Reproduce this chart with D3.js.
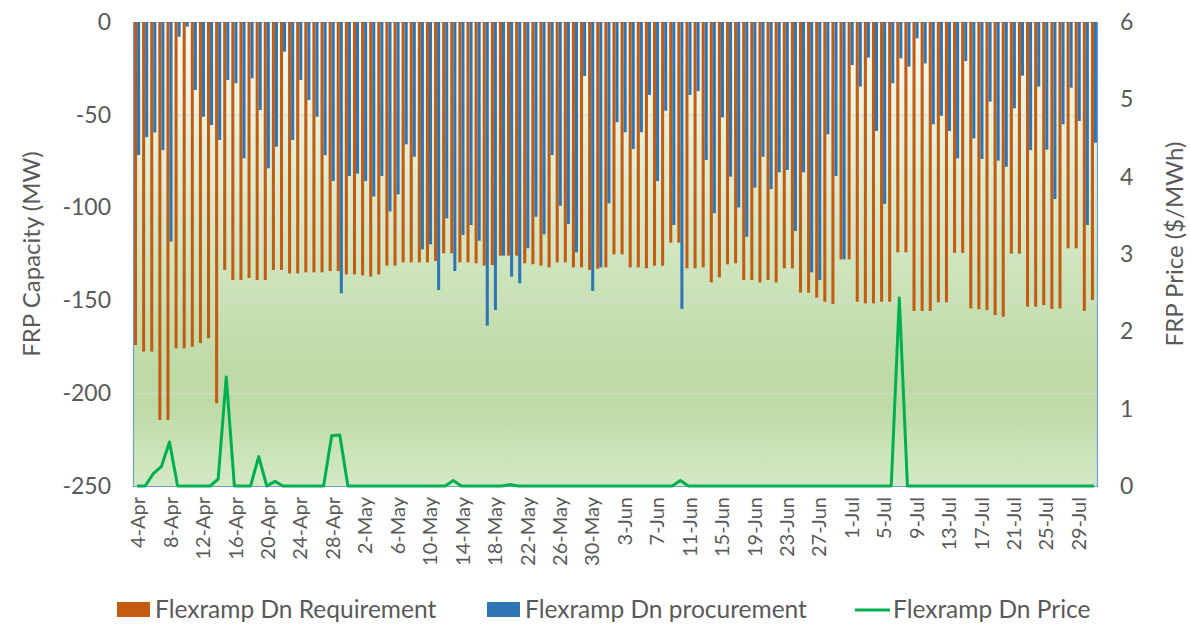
<!DOCTYPE html>
<html>
<head>
<meta charset="utf-8">
<script src="https://cdn.jsdelivr.net/npm/d3@7"></script>
<style>
  body { margin: 0; background: #fff; }
  text { font-family: Lato, 'Open Sans', sans-serif; fill: #595959; }
</style>
</head>
<body>
<svg id="chart" width="1190" height="625"></svg>
<script>
// daily values, 4-Apr .. 31-Jul
const requirement = [
  -174, -177.6, -177.6, -214.4, -214.4, -175.8, -175.8, -175, -173, -170.4,
  -205.4, -133.6, -139, -139, -138, -139, -139, -133.6, -133.6, -135.4,
  -135.4, -134.9, -134.9, -134.9, -134.2, -134.2, -136, -136, -136.5, -137.2,
  -136, -131.3, -131.3, -129.5, -129.5, -129.5, -129.5, -128.8, -124.6, -124.6,
  -129.5, -129.5, -130, -131.3, -131, -125.9, -125.9, -125.9, -130, -130.5,
  -131.3, -132.2, -129.5, -129.5, -132.2, -132.2, -133.6, -133, -132.2, -125.2,
  -125.2, -132.2, -132.2, -132.7, -131.3, -131.3, -118.9, -118.9, -132.7, -132.7,
  -132.2, -140.3, -137.6, -130.6, -130, -139, -139, -140.3, -139, -140.3,
  -132.7, -132.7, -145.8, -145.8, -148.5, -150.7, -151.9, -127.9, -127.9, -150.7,
  -151.6, -151.6, -150.7, -150.7, -124.1, -124.1, -155.7, -155.7, -155.7, -151,
  -151, -124.4, -124.4, -154.3, -154.8, -155.2, -157.9, -158.8, -124.8, -124.8,
  -153.4, -153.4, -152.5, -154.6, -154.3, -121.9, -121.9, -155.7, -149.8
];
const procurement = [
  -71.7, -62, -59.5, -69, -118.3, -7.9, -2.5, -36.6, -51, -55.5,
  -63.6, -31.3, -33, -73.4, -30.3, -47.4, -78.8, -67.2, -16, -63.6,
  -31.3, -42, -51, -71.7, -85.7, -146.2, -83, -81.7, -85.7, -94,
  -83, -102, -92.9, -65.9, -72.6, -122.5, -119.8, -144.4, -105.8, -134.2,
  -114.8, -109.4, -117.8, -163.6, -155.2, -125.9, -137.2, -140.8, -121.9, -104.9,
  -114.4, -71.7, -99, -108.8, -124.1, -29.1, -144.9, -132.2, -97.7, -54,
  -59.4, -68.4, -59.4, -39.3, -85.7, -47.8, -109.4, -154.6, -39.3, -37.2,
  -74.4, -103, -51.4, -83.3, -99.9, -115.7, -89.3, -72.6, -90, -81,
  -79.7, -112.6, -81, -134.9, -139, -60.5, -83, -127.9, -23.2, -34.8,
  -19.2, -58.7, -98, -33, -19.6, -24, -8.8, -22.3, -55.1, -50.5,
  -58.7, -73.4, -21, -62.7, -73.8, -42.9, -74.7, -78, -46.5, -28.9,
  -69, -34.8, -68.8, -95.4, -55.1, -35.4, -53.3, -109.4, -65
];
const price = [
  0, 0, 0.16, 0.25, 0.57, 0, 0, 0, 0, 0,
  0.09, 1.41, 0, 0, 0, 0.38, 0, 0.06, 0, 0,
  0, 0, 0, 0, 0.65, 0.66, 0, 0, 0, 0,
  0, 0, 0, 0, 0, 0, 0, 0, 0, 0.07,
  0, 0, 0, 0, 0, 0, 0.02, 0, 0, 0,
  0, 0, 0, 0, 0, 0, 0, 0, 0, 0,
  0, 0, 0, 0, 0, 0, 0, 0.07, 0, 0,
  0, 0, 0, 0, 0, 0, 0, 0, 0, 0,
  0, 0, 0, 0, 0, 0, 0, 0, 0, 0,
  0, 0, 0, 0, 2.43, 0, 0, 0, 0, 0,
  0, 0, 0, 0, 0, 0, 0, 0, 0, 0,
  0, 0, 0, 0, 0, 0, 0, 0, 0
];
const capacityTicks = [0, -50, -100, -150, -200, -250];
const priceTicks = [0, 1, 2, 3, 4, 5, 6];
const labelEvery = 4;

const startDate = new Date(2019, 3, 4);
const dates = d3.timeDay.range(startDate, d3.timeDay.offset(startDate, requirement.length));
const fmt = d3.timeFormat('%-d-%b');

const colors = { req: '#C55A11', proc: '#2E75B6', price: '#00B050' };
const plot = { left: 133, right: 1098, top: 22, bottom: 486 };

const svg = d3.select('#chart');

const x = d3.scaleBand().domain(d3.range(dates.length)).range([plot.left, plot.right]);
const xSub = d3.scaleBand().domain(['req', 'proc']).range([0, x.bandwidth()]).paddingOuter(0.33);
const y = d3.scaleLinear().domain([-250, 0]).range([plot.bottom, plot.top]);
const y2 = d3.scaleLinear().domain([0, 6]).range([plot.bottom, plot.top]);

// plot background gradient
const defs = svg.append('defs');
const grad = defs.append('linearGradient').attr('id', 'bg').attr('x1', 0).attr('y1', 0).attr('x2', 0).attr('y2', 1);
[['0%', '#f7fbf3'], ['74%', '#bedba7'], ['83%', '#bedba7'], ['100%', '#d4e9c6']]
  .forEach(([o, c]) => grad.append('stop').attr('offset', o).attr('stop-color', c));

svg.append('rect')
  .attr('x', plot.left).attr('y', plot.top)
  .attr('width', plot.right - plot.left).attr('height', plot.bottom - plot.top)
  .attr('fill', 'url(#bg)');

// gridlines
svg.append('g').selectAll('line').data(capacityTicks.filter(d => d !== -250)).join('line')
  .attr('x1', plot.left).attr('x2', plot.right)
  .attr('y1', d => y(d) + 0.5).attr('y2', d => y(d) + 0.5)
  .attr('stroke', '#d9d9d9').attr('stroke-width', 1);

// bars
const bars = svg.append('g');
bars.selectAll('rect.req').data(requirement).join('rect').attr('class', 'req')
  .attr('x', (d, i) => x(i) + xSub('req')).attr('width', xSub.bandwidth())
  .attr('y', y(0)).attr('height', d => y(d) - y(0))
  .attr('fill', colors.req);
bars.selectAll('rect.proc').data(procurement).join('rect').attr('class', 'proc')
  .attr('x', (d, i) => x(i) + xSub('proc')).attr('width', xSub.bandwidth())
  .attr('y', y(0)).attr('height', d => y(d) - y(0))
  .attr('fill', colors.proc);

// plot border (left, right, bottom)
svg.append('path')
  .attr('d', `M${plot.left + 0.5},${plot.top}V${plot.bottom + 0.5}H${plot.right - 0.5}V${plot.top}`)
  .attr('fill', 'none').attr('stroke', '#6a9fd8').attr('stroke-width', 1.2);

// price line
const line = d3.line().x((d, i) => x(i) + x.bandwidth() / 2).y(d => y2(d));
svg.append('path').datum(price)
  .attr('d', line)
  .attr('fill', 'none').attr('stroke', colors.price).attr('stroke-width', 3)
  .attr('stroke-linejoin', 'round');

// left axis
const leftAxis = svg.append('g').attr('transform', `translate(${plot.left - 22},0)`)
  .call(d3.axisLeft(y).tickValues(capacityTicks).tickSize(0).tickPadding(0).tickFormat(d => String(d)));
leftAxis.select('.domain').remove();
leftAxis.selectAll('text').attr('font-size', 23).style('font-family', 'Lato').attr('fill', '#595959');

// right axis
const rightAxis = svg.append('g').attr('transform', `translate(${plot.right + 22},0)`)
  .call(d3.axisRight(y2).tickValues(priceTicks).tickSize(0).tickPadding(0).tickFormat(d3.format('d')));
rightAxis.select('.domain').remove();
rightAxis.selectAll('text').attr('font-size', 23).style('font-family', 'Lato').attr('fill', '#595959');

// x labels
const xLabels = d3.range(0, dates.length, labelEvery);
svg.append('g').selectAll('text').data(xLabels).join('text')
  .attr('transform', i => `translate(${x(i) + x.bandwidth() / 2 + 1},${plot.bottom + 11}) rotate(-90)`)
  .attr('text-anchor', 'end').attr('dy', '0.36em')
  .attr('font-size', 20)
  .text(i => fmt(dates[i]));

// axis titles
svg.append('text')
  .attr('transform', `translate(31,${(plot.top + plot.bottom) / 2}) rotate(-90)`)
  .attr('text-anchor', 'middle').attr('dy', '0.36em').attr('font-size', 24)
  .text('FRP Capacity (MW)');
svg.append('text')
  .attr('transform', `translate(1174,244) rotate(-90)`)
  .attr('text-anchor', 'middle').attr('dy', '0.36em').attr('font-size', 24)
  .text('FRP Price ($/MWh)');

// legend
const legend = svg.append('g');
const items = [
  { label: 'Flexramp Dn Requirement', color: colors.req, type: 'rect', x: 117 },
  { label: 'Flexramp Dn procurement', color: colors.proc, type: 'rect', x: 487 },
  { label: 'Flexramp Dn Price', color: colors.price, type: 'line', x: 855 }
];
items.forEach(it => {
  if (it.type === 'rect') {
    legend.append('rect').attr('x', it.x).attr('y', 602).attr('width', 33).attr('height', 15).attr('fill', it.color);
  } else {
    legend.append('line').attr('x1', it.x).attr('x2', it.x + 35).attr('y1', 610).attr('y2', 610)
      .attr('stroke', it.color).attr('stroke-width', 3);
  }
  legend.append('text').attr('x', it.x + 38).attr('y', 618).attr('font-size', 24.5).text(it.label);
});
</script>
</body>
</html>
